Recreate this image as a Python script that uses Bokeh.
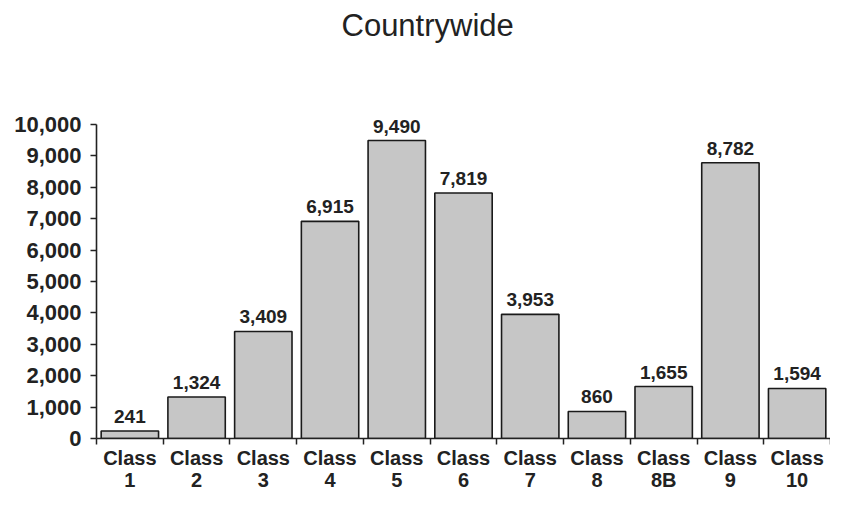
from bokeh.plotting import figure
from bokeh.models import ColumnDataSource, LabelSet, FixedTicker, NumeralTickFormatter, Range1d, Title
from bokeh.core.properties import value
from bokeh.embed import file_html
from bokeh.resources import INLINE

categories = ["Class\n1", "Class\n2", "Class\n3", "Class\n4", "Class\n5", "Class\n6",
              "Class\n7", "Class\n8", "Class\n8B", "Class\n9", "Class\n10"]
values = [241, 1324, 3409, 6915, 9490, 7819, 3953, 860, 1655, 8782, 1594]
value_labels = ["241", "1,324", "3,409", "6,915", "9,490", "7,819", "3,953", "860", "1,655", "8,782", "1,594"]
y_ticks = [0, 1000, 2000, 3000, 4000, 5000, 6000, 7000, 8000, 9000, 10000]

n = len(categories)
xs = list(range(n))
src = ColumnDataSource(dict(x=xs, top=values, lab=value_labels))

p = figure(width=830, height=494, output_backend="svg", toolbar_location=None,
           x_range=Range1d(-0.5, n - 0.5), y_range=Range1d(0, 10350),
           min_border_left=96, min_border_right=0, min_border_top=113, min_border_bottom=10)

# spacer between title and frame
p.add_layout(Title(text=" ", text_font_size="10px", standoff=51), "above")

p.title.text = "Countrywide"
p.title.align = "left"
p.title.vertical_align = "top"
p.title.text_font = "Liberation Sans"
p.title.text_font_style = "normal"
p.title.text_font_size = "31px"
p.title.text_color = "#222222"
p.title.offset = 245
p.title.standoff = 10

p.vbar(x="x", top="top", width=0.86, bottom=0, source=src,
       fill_color="#c6c6c6", line_color="#1a1a1a", line_width=1.6)

labels = LabelSet(x="x", y="top", text="lab", source=src, y_offset=8,
                  text_align="center", text_baseline="bottom",
                  text_font=value("Liberation Sans"), text_font_style="bold",
                  text_font_size="19px", text_color="#222222")
p.add_layout(labels)

p.xgrid.visible = False
p.ygrid.visible = False
p.outline_line_color = None

xa = p.xaxis[0]
xa.ticker = FixedTicker(ticks=xs, minor_ticks=[i - 0.5 for i in range(n + 1)])
xa.major_label_overrides = {i: c for i, c in enumerate(categories)}
xa.major_tick_out = 0
xa.major_tick_in = 0
xa.minor_tick_out = 6
xa.minor_tick_in = 0
xa.minor_tick_line_color = "#222222"
xa.minor_tick_line_width = 1.5
xa.axis_line_color = "#222222"
xa.axis_line_width = 1.6
xa.major_label_text_font = "Liberation Sans"
xa.major_label_text_font_style = "bold"
xa.major_label_text_font_size = "20px"
xa.major_label_text_line_height = 1.04
xa.major_label_text_color = "#222222"
xa.major_label_standoff = 2

ya = p.yaxis[0]
ya.ticker = FixedTicker(ticks=y_ticks)
ya.bounds = (0, 10000)
ya.formatter = NumeralTickFormatter(format="0,0")
ya.major_tick_out = 6
ya.major_tick_in = 0
ya.minor_tick_out = 0
ya.minor_tick_in = 0
ya.major_tick_line_color = "#222222"
ya.major_tick_line_width = 1.5
ya.axis_line_color = "#222222"
ya.axis_line_width = 1.6
ya.major_label_text_font = "Liberation Sans"
ya.major_label_text_font_style = "bold"
ya.major_label_text_font_size = "22px"
ya.major_label_text_color = "#222222"
ya.major_label_standoff = 9

open("out.html", "w").write(file_html(p, INLINE))
